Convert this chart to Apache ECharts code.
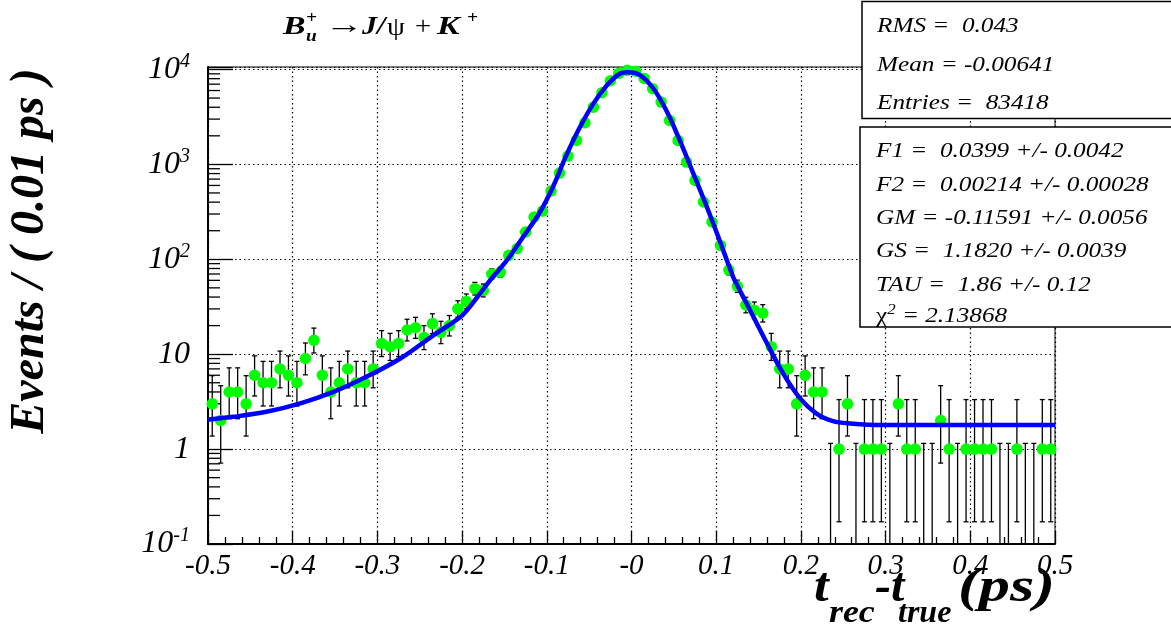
<!DOCTYPE html>
<html><head><meta charset="utf-8">
<script src="https://cdn.jsdelivr.net/npm/echarts@6/dist/echarts.min.js"></script>
<style>html,body{margin:0;padding:0;background:#fff}#c{width:1171px;height:634px}</style>
</head><body><div id="c"></div>
<script>
// ---- data ----
const binLow = -0.5, binWidth = 0.01;
const counts = [
  3, 2, 4, 4, 3, 6, 5, 5, 7, 6,
  5, 9, 14, 6, 4, 5, 7, 5, 5, 7,
  13, 12, 13, 18, 19, 15, 21, 17, 20, 30,
  36, 49, 47, 70, 73, 110, 130, 194, 279, 322,
  524, 810, 1223, 1790, 2748, 4010, 5688, 7600, 9100, 9800,
  9600, 8050, 6270, 4530, 2905, 1790, 1058, 678, 401, 247,
  140, 77, 52, 33, 29, 27, 12, 7, 7, 3,
  6, 4, 4, 0, 1, 3, 0, 1, 1, 1,
  0, 3, 1, 1, 0, 0, 2, 1, 0, 1,
  1, 1, 1, 0, 0, 1, 0, 0, 1, 1
];
const curveX = [-0.5, -0.470, -0.431, -0.391, -0.352, -0.313, -0.273, -0.234, -0.202, -0.191,
  -0.167, -0.147, -0.128, -0.108, -0.092, -0.077, -0.061, -0.045, -0.029, -0.014,
  -0.004, 0.010, 0.026, 0.041, 0.057, 0.073, 0.089, 0.104, 0.120, 0.124,
  0.140, 0.159, 0.179, 0.199, 0.218, 0.238, 0.258, 0.297, 0.5];
const curveY = [2.05, 2.19, 2.47, 3.03, 4.0, 5.77, 9.0, 15.8, 24.7, 31.5,
  60, 98, 172, 315, 600, 1243, 2460, 4370, 6810, 9010,
  9350, 8730, 6270, 3710, 1790, 800, 356, 158, 65, 55,
  29, 13.5, 6.27, 3.42, 2.38, 1.97, 1.86, 1.79, 1.79];
const xTickLabels = ['-0.5', '-0.4', '-0.3', '-0.2', '-0.1', '-0', '0.1', '0.2', '0.3', '0.4', '0.5'];
const yTickValues = [0.1, 1, 10, 100, 1000, 10000];
const yTickBase = ['10', '1', '10', '10', '10', '10'];
const yTickExp = ['-1', '', '', '2', '3', '4'];
const statsLines = ['RMS =  0.043', 'Mean = -0.00641', 'Entries =  83418'];
const fitLines = ['F1 =  0.0399 +/- 0.0042', 'F2 =  0.00214 +/- 0.00028', 'GM = -0.11591 +/- 0.0056',
  'GS =  1.1820 +/- 0.0039', 'TAU =  1.86 +/- 0.12'];
const chi2Text = ' = 2.13868';

// ---- derived ----
const yMin = 0.1, yMax = 10620;
const centers = counts.map((_, i) => +(binLow + binWidth * (i + 0.5)).toFixed(3));
function poisLo(n) { if (n <= 0) return 0; const t = 1 - 1 / (9 * n) - 1 / (3 * Math.sqrt(n)); return n * t * t * t; }
function poisHi(n) { if (n <= 0) return 1.148; return n + Math.sqrt(n + 0.75) + 1; }
const errData = counts.map((n, i) => {
  const lo = poisLo(n);
  return [centers[i], Math.max(lo, yMin), poisHi(n), lo > yMin ? 1 : 0];
});
const pointData = counts.map((n, i) => [centers[i], n]).filter(d => d[1] > 0);
const curveData = curveX.map((x, i) => [x, curveY[i]]);
const yMinorTicks = [];
for (let k = -1; k <= 3; k++) for (let m = 2; m <= 9; m++) yMinorTicks.push([-0.5, m * Math.pow(10, k)]);

const FONT = 'Liberation Serif';
const chart = echarts.init(document.getElementById('c'), null, {renderer: 'canvas'});

function errItem(params, api) {
  const x = api.value(0), lo = api.value(1), hi = api.value(2), capLo = api.value(3);
  const p0 = api.coord([x, lo]), p1 = api.coord([x, hi]);
  const c = 2.5, st = {stroke: '#000', lineWidth: 1.3};
  const ch = [
    {type: 'line', shape: {x1: p0[0], y1: p0[1], x2: p1[0], y2: p1[1]}, style: st},
    {type: 'line', shape: {x1: p1[0] - c, y1: p1[1], x2: p1[0] + c, y2: p1[1]}, style: st}
  ];
  if (capLo) ch.push({type: 'line', shape: {x1: p0[0] - c, y1: p0[1], x2: p0[0] + c, y2: p0[1]}, style: st});
  return {type: 'group', children: ch};
}
function minorTickItem(params, api) {
  const p = api.coord([api.value(0), api.value(1)]);
  return {type: 'line', shape: {x1: p[0], y1: p[1], x2: p[0] + 12, y2: p[1]}, style: {stroke: '#000', lineWidth: 1.3}};
}

function txt(x, y, text, size, opts, sx) {
  return {type: 'text', x: x, y: y, z: 110, scaleX: sx || 1,
    style: Object.assign({text: text, fontFamily: FONT, fontSize: size, fontStyle: 'italic', fill: '#000',
      align: 'left', verticalAlign: 'middle'}, opts || {})};
}

const graphics = [
  {type: 'rect', z: 100, shape: {x: 862, y: 1.5, width: 320, height: 117}, style: {fill: '#fff', stroke: '#000', lineWidth: 1.5}},
  {type: 'rect', z: 100, shape: {x: 860, y: 127, width: 320, height: 200}, style: {fill: '#fff', stroke: '#000', lineWidth: 1.5}},
];
const SX = 1.2;
statsLines.forEach((s, i) => graphics.push(txt(877, [26, 65, 103][i], s, 21, null, SX)));
fitLines.forEach((s, i) => graphics.push(txt(876, [151, 185, 218, 251, 285][i], s, 21, null, SX)));
graphics.push(txt(876, 316, '{g|χ}{s|2}{t|' + chi2Text + '}', 21, {rich: {
  g: {fontFamily: FONT, fontSize: 21, lineHeight: 26},
  s: {fontFamily: FONT, fontSize: 14, lineHeight: 16, verticalAlign: 'top', fontStyle: 'italic'},
  t: {fontFamily: FONT, fontSize: 21, lineHeight: 26, fontStyle: 'italic'}}}, SX));
// title
const TB = {fontWeight: 'bold'};
graphics.push(txt(283, 27, 'B', 26, TB, 1.3));
graphics.push(txt(306, 19, '+', 16, TB, 1.2));
graphics.push(txt(306, 37, 'u', 16, TB, 1.2));
graphics.push(txt(325, 26, '→', 26, {fontStyle: 'normal'}, 1.5));
graphics.push(txt(362, 27, 'J/', 26, TB, 1.15));
graphics.push(txt(387, 28, 'ψ', 26, {fontStyle: 'normal'}, 1.1));
graphics.push(txt(415, 27, '+', 26, {fontStyle: 'normal'}, 1.1));
graphics.push(txt(437, 27, 'K', 26, TB, 1.3));
graphics.push(txt(467, 19, '+', 16, TB, 1.2));
// axis titles
graphics.push({type: 'text', x: 31, y: 251, rotation: Math.PI / 2, z: 110,
  style: {text: 'Events / ( 0.01 ps )', fontFamily: FONT, fontSize: 48, fontStyle: 'italic', fontWeight: 'bold',
    fill: '#000', align: 'center', verticalAlign: 'middle'}});
graphics.push(txt(814, 589, 't', 48, TB, 1.1));
graphics.push(txt(829, 614, 'rec', 32, TB, 1.12));
graphics.push(txt(875, 589, '-t', 48, TB, 1.0));
graphics.push(txt(898, 614, 'true', 32, TB, 1.0));
graphics.push(txt(1055, 589, '(ps)', 48, Object.assign({align: 'right'}, TB), 1.3));

chart.setOption({
  animation: false,
  backgroundColor: '#fff',
  grid: {left: 208, right: 116, top: 67, bottom: 90, show: true, borderColor: '#000', borderWidth: 1, backgroundColor: 'transparent'},
  xAxis: {
    type: 'value', min: -0.5, max: 0.5, interval: 0.1,
    axisLine: {show: true, onZero: false, lineStyle: {color: '#000', width: 2}},
    axisTick: {show: true, inside: true, length: 13, lineStyle: {color: '#000', width: 1.3}},
    minorTick: {show: true, splitNumber: 5, length: 7, lineStyle: {color: '#000', width: 1.3}},
    axisLabel: {margin: 8, color: '#000', fontFamily: FONT, fontStyle: 'italic', fontSize: 29,
      formatter: v => xTickLabels[Math.round((v + 0.5) * 10)]},
    splitLine: {show: true, lineStyle: {color: '#000', width: 1.2, type: [1.5, 3]}}
  },
  yAxis: {
    type: 'log', logBase: 10, min: yMin, max: yMax,
    axisLine: {show: true, onZero: false, lineStyle: {color: '#000', width: 2}},
    axisTick: {show: true, inside: true, length: 25, lineStyle: {color: '#000', width: 1.3}},
    axisLabel: {margin: 18, color: '#000', fontFamily: FONT, fontStyle: 'italic',
      formatter: v => {
        const i = yTickValues.findIndex(t => Math.abs(Math.log10(v) - Math.log10(t)) < 1e-6);
        if (i < 0) return '';
        return yTickExp[i] ? '{b|' + yTickBase[i] + '}{s|' + yTickExp[i] + '}' : '{b|' + yTickBase[i] + '}';
      },
      rich: {
        b: {fontFamily: FONT, fontStyle: 'italic', fontSize: 32, lineHeight: 36, color: '#000'},
        s: {fontFamily: FONT, fontStyle: 'italic', fontSize: 20, lineHeight: 24, verticalAlign: 'top', color: '#000'}
      }},
    splitLine: {show: true, lineStyle: {color: '#000', width: 1.2, type: [1.5, 3]}}
  },
  graphic: graphics,
  series: [
    {type: 'custom', name: 'minorTicks', renderItem: minorTickItem, data: yMinorTicks, z: 1, silent: true},
    {type: 'custom', name: 'errors', renderItem: errItem, data: errData, encode: {x: 0, y: [1, 2]}, z: 2, clip: true},
    {type: 'scatter', name: 'data', data: pointData, symbol: 'circle', symbolSize: 11.5, itemStyle: {color: '#00ff00', opacity: 1}, z: 3},
    {type: 'line', name: 'fit', data: curveData, smooth: 0.35, showSymbol: false, lineStyle: {color: '#0000ff', width: 4.5}, itemStyle: {color: '#0000ff'}, z: 4}
  ]
});
</script></body></html>
